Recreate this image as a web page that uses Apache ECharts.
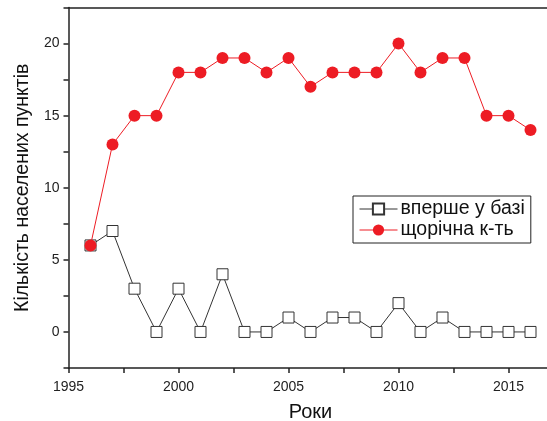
<!DOCTYPE html>
<html><head><meta charset="utf-8">
<script src="https://cdn.jsdelivr.net/npm/echarts@6/dist/echarts.min.js"></script>
<style>html,body{margin:0;padding:0;background:#fff}#c{width:547px;height:421px}</style>
</head><body><div id="c"></div>
<script>
const years = [1996,1997,1998,1999,2000,2001,2002,2003,2004,2005,2006,2007,2008,2009,2010,2011,2012,2013,2014,2015,2016];
const firstInBase = [6,7,3,0,3,0,4,0,0,1,0,1,1,0,2,0,1,0,0,0,0];
const yearlyCount = [6,13,15,15,18,18,19,19,18,19,17,18,18,18,20,18,19,19,15,15,14];
const seriesNames = ['вперше у базі','щорічна к-ть'];
const xTitle = 'Роки';
const yTitle = 'Кількість населених пунктів';

const font = 'Liberation Sans, Arial, sans-serif';
const chart = echarts.init(document.getElementById('c'));
chart.setOption({
  animation:false,
  grid:{left:68.5,top:7.5,width:495,height:360.5,outerBoundsMode:'none',containLabel:false},
  legend:{
    left:353,top:196,orient:'vertical',itemGap:1,itemWidth:38,itemHeight:14,
    borderColor:'#222',borderWidth:1,padding:[3,6,3,6],
    lineStyle:{width:1},
    textStyle:{fontFamily:font,fontSize:19.5,color:'#111',padding:[0,0,0,-2]},
    data:seriesNames
  },
  xAxis:[{
    type:'value',min:1995,max:2017.5,interval:2.5,position:'bottom',
    name:xTitle,nameLocation:'middle',nameGap:34,
    nameTextStyle:{fontFamily:font,fontSize:20,color:'#111',padding:[0,11,0,0]},
    axisLine:{show:true,onZero:false,lineStyle:{color:'#222',width:1.5}},
    axisTick:{show:true,inside:false,length:5,lineStyle:{color:'#222',width:1.5}},
    axisLabel:{fontFamily:font,fontSize:14,color:'#222',margin:12,
      formatter:v=> (v%5===0 && v<=2015) ? String(v) : ''},
    splitLine:{show:false}
  },{
    type:'value',min:1995,max:2017.5,position:'top',
    axisLine:{show:true,onZero:false,lineStyle:{color:'#222',width:1.5}},
    axisTick:{show:false},axisLabel:{show:false},splitLine:{show:false}
  }],
  yAxis:{
    type:'value',min:-2.5,max:22.5,interval:2.5,
    name:yTitle,nameLocation:'middle',nameGap:36,nameRotate:90,
    nameTextStyle:{fontFamily:font,fontSize:19.5,color:'#111'},
    axisLine:{show:true,onZero:false,lineStyle:{color:'#222',width:1.5}},
    axisTick:{show:true,inside:false,length:5,lineStyle:{color:'#222',width:1.5}},
    axisLabel:{fontFamily:font,fontSize:14,color:'#222',margin:9,
      formatter:v=> (v>=0 && v%5===0) ? String(v) : ''},
    splitLine:{show:false}
  },
  series:[{
    name:seriesNames[0],type:'line',
    data:years.map((y,i)=>[y,firstInBase[i]]),
    symbol:'rect',symbolSize:11,
    lineStyle:{color:'#333',width:1},
    itemStyle:{color:'#fff',borderColor:'#333',borderWidth:1},
    z:2
  },{
    name:seriesNames[1],type:'line',
    data:years.map((y,i)=>[y,yearlyCount[i]]),
    symbol:'circle',symbolSize:12,
    lineStyle:{color:'#ed1c24',width:1},
    itemStyle:{color:'#ed1c24',borderColor:'#ed1c24',borderWidth:0},
    z:3
  }]
});
</script></body></html>
